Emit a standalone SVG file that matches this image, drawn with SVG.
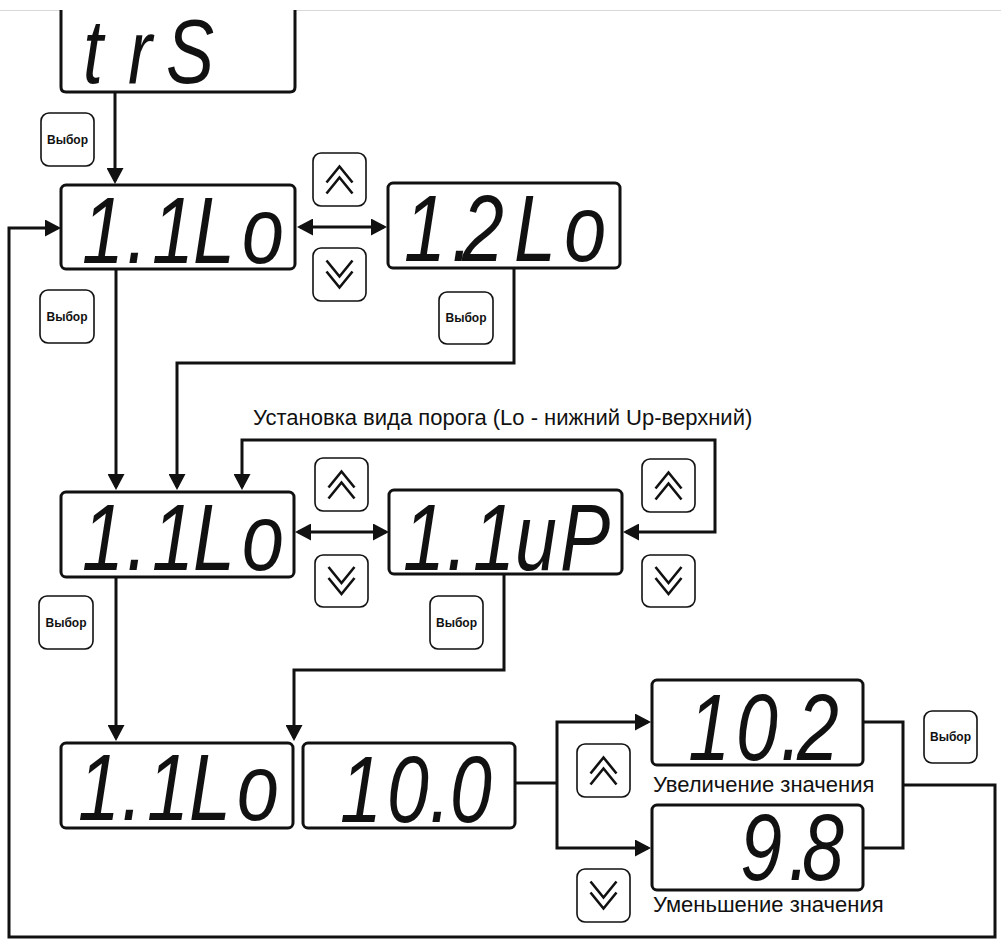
<svg xmlns="http://www.w3.org/2000/svg" width="1001" height="944" viewBox="0 0 1001 944">
<defs>
  <marker id="ah" markerUnits="userSpaceOnUse" viewBox="0 0 16 17" refX="13" refY="8.5" markerWidth="16" markerHeight="17" orient="auto-start-reverse">
    <path d="M0,0 L16,8.5 L0,17 Z" fill="#111"/>
  </marker>
  <g id="upIcon">
    <path class="chev" d="M-13,3 L0,-13 L13,3 M-13,14 L0,-2 L13,14"/>
  </g>
  <g id="dnIcon">
    <path class="chev" d="M-13,-14 L0,2 L13,-14 M-13,-3 L0,13 L13,-3"/>
  </g>
</defs>
<style>
  .disp{fill:#fff;stroke:#111;stroke-width:3}
  .seg{font-family:"Liberation Sans",Arial,sans-serif;font-style:italic;font-size:94px;fill:#111;text-anchor:middle}
  .btn{fill:#fff;stroke:#111;stroke-width:1.6}
  .bt{font-family:"Liberation Sans",Arial,sans-serif;font-weight:bold;font-size:12px;fill:#111;text-anchor:middle}
  .lbl{font-family:"Liberation Sans",Arial,sans-serif;font-size:22px;fill:#111}
  .ln{fill:none;stroke:#111;stroke-width:3}
  .chev{fill:none;stroke:#111;stroke-width:2.6}
</style>
<rect width="1001" height="944" fill="#fff"/>
<line x1="0" y1="10.5" x2="1001" y2="10.5" stroke="#d9d9d9" stroke-width="1"/>

<g id="connectors">
  <path class="ln" d="M115,92 V181" marker-end="url(#ah)"/>
  <path class="ln" d="M903,785 H995 V937 H9 V228 H58" marker-end="url(#ah)"/>
  <path class="ln" d="M300,227 H384" marker-start="url(#ah)" marker-end="url(#ah)"/>
  <path class="ln" d="M116,269 V487" marker-end="url(#ah)"/>
  <path class="ln" d="M514,268 V363 H177 V487" marker-end="url(#ah)"/>
  <path class="ln" d="M242,487 V440 H715 V532 H626" marker-start="url(#ah)" marker-end="url(#ah)"/>
  <path class="ln" d="M298,532 H386" marker-start="url(#ah)" marker-end="url(#ah)"/>
  <path class="ln" d="M116,577 V738" marker-end="url(#ah)"/>
  <path class="ln" d="M504,574 V670 H294 V738" marker-end="url(#ah)"/>
  <path class="ln" d="M515,783 H557"/>
  <path class="ln" d="M557,783 V722 H648" marker-end="url(#ah)"/>
  <path class="ln" d="M557,783 V848 H648" marker-end="url(#ah)"/>
  <path class="ln" d="M863,722 H903 V848 H863"/>
</g>

<g id="n-trS">
  <path class="disp" d="M61,10 V87 Q61,92 66,92 H290 Q295,92 295,87 V10" fill="none"/>
  <text class="seg" transform="scale(0.8 1)" x="116.3 175 237.5" y="83" style="font-size:90px">trS</text>
</g>

<g id="n-11Lo-a">
  <rect class="disp" x="61" y="185" width="234" height="84" rx="5"/>
  <text class="seg" transform="scale(0.8 1)" x="128.8 171.3 216.3 267.5 328.8" y="263">1.1Lo</text>
</g>

<g id="n-12Lo">
  <rect class="disp" x="388" y="183" width="232" height="85" rx="5"/>
  <text class="seg" transform="scale(0.8 1)" x="531.3 577.5 603.8 668.8 731.3" y="261">1.2Lo</text>
</g>

<g id="n-11Lo-b">
  <rect class="disp" x="61" y="492" width="233" height="85" rx="5"/>
  <text class="seg" transform="scale(0.8 1)" x="128.8 171.3 216.3 267.5 328.8" y="570">1.1Lo</text>
</g>

<g id="n-11uP">
  <rect class="disp" x="389" y="490" width="233" height="84" rx="5"/>
  <text class="seg" transform="scale(0.8 1)" x="530 571.3 617.5 670 731.3" y="570">1.1uP</text>
</g>

<g id="n-11Lo-c">
  <rect class="disp" x="61" y="743" width="232" height="85" rx="5"/>
  <text class="seg" transform="scale(0.8 1)" x="123.8 165 210 262.5 322.5" y="820">1.1Lo</text>
</g>

<g id="n-100">
  <rect class="disp" x="303" y="743" width="212" height="85" rx="5"/>
  <text class="seg" transform="scale(0.8 1)" x="451.3 510 550 588.8" y="822">10.0</text>
</g>

<g id="n-102">
  <rect class="disp" x="652" y="680" width="211" height="85" rx="5"/>
  <text class="seg" transform="scale(0.8 1)" x="886.3 946.3 988.8 1022.5" y="760">10.2</text>
</g>

<g id="n-98">
  <rect class="disp" x="652" y="805" width="211" height="85" rx="5"/>
  <text class="seg" transform="scale(0.8 1)" x="951.3 998.8 1028.8" y="880">9.8</text>
</g>

<g id="label-type">
  <text class="lbl" x="253" y="425">Установка вида порога (Lo - нижний Up-верхний)</text>
</g>
<g id="label-inc">
  <text class="lbl" x="653" y="792">Увеличение значения</text>
</g>
<g id="label-dec">
  <text class="lbl" x="653" y="912">Уменьшение значения</text>
</g>

<g id="btn-sel-1"><rect class="btn" x="41" y="113" width="53" height="53" rx="8"/><text class="bt" x="67.5" y="144">Выбор</text></g>
<g id="btn-sel-2"><rect class="btn" x="40" y="290" width="54" height="53" rx="8"/><text class="bt" x="67" y="321">Выбор</text></g>
<g id="btn-sel-3"><rect class="btn" x="439" y="292" width="54" height="52" rx="8"/><text class="bt" x="466" y="322">Выбор</text></g>
<g id="btn-sel-4"><rect class="btn" x="39" y="596" width="54" height="53" rx="8"/><text class="bt" x="66" y="627">Выбор</text></g>
<g id="btn-sel-5"><rect class="btn" x="430" y="596" width="53" height="53" rx="8"/><text class="bt" x="456.5" y="627">Выбор</text></g>
<g id="btn-sel-6"><rect class="btn" x="924" y="711" width="53" height="52" rx="8"/><text class="bt" x="950.5" y="741">Выбор</text></g>

<g id="btn-up-1"><rect class="btn" x="313" y="153" width="53" height="53" rx="8"/><use href="#upIcon" x="339.5" y="179.5"/></g>
<g id="btn-dn-1"><rect class="btn" x="313" y="248" width="53" height="53" rx="8"/><use href="#dnIcon" x="339.5" y="274.5"/></g>
<g id="btn-up-2"><rect class="btn" x="315" y="458" width="53" height="53" rx="8"/><use href="#upIcon" x="341.5" y="484.5"/></g>
<g id="btn-dn-2"><rect class="btn" x="315" y="555" width="53" height="52" rx="8"/><use href="#dnIcon" x="341.5" y="581"/></g>
<g id="btn-up-3"><rect class="btn" x="642" y="459" width="53" height="53" rx="8"/><use href="#upIcon" x="668.5" y="485.5"/></g>
<g id="btn-dn-3"><rect class="btn" x="642" y="555" width="53" height="52" rx="8"/><use href="#dnIcon" x="668.5" y="581"/></g>
<g id="btn-up-4"><rect class="btn" x="577" y="744" width="53" height="53" rx="8"/><use href="#upIcon" x="603.5" y="770.5"/></g>
<g id="btn-dn-4"><rect class="btn" x="577" y="869" width="53" height="53" rx="8"/><use href="#dnIcon" x="603.5" y="895.5"/></g>
</svg>
